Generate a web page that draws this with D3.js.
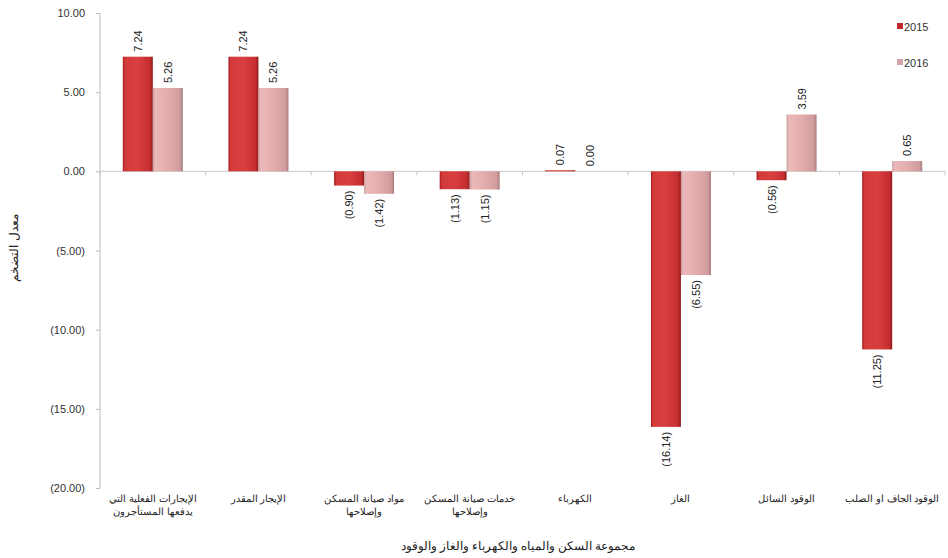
<!DOCTYPE html>
<html><head><meta charset="utf-8">
<script src="https://cdn.jsdelivr.net/npm/d3@7"></script>
<style>body{margin:0;background:#fff}svg{display:block}text{font-family:"Liberation Sans",Arial,sans-serif}</style>
</head><body><svg id="c" width="948" height="558"></svg>
<script>
const categories = ["الإيجارات الفعلية التي|يدفعها المستأجرون","الإيجار المقدر","مواد صيانة المسكن|وإصلاحها","خدمات صيانة المسكن|وإصلاحها","الكهرباء","الغاز","الوقود السائل","الوقود الجاف او الصلب"];
const series = ["2015","2016"];
const v2015 = [7.24,7.24,-0.90,-1.13,0.07,-16.14,-0.56,-11.25];
const v2016 = [5.26,5.26,-1.42,-1.15,0.00,-6.55,3.59,0.65];
const yTicks = [10,5,0,-5,-10,-15,-20];
const yTitle = "معدل التضخم";
const xTitle = "مجموعة السكن والمياه والكهرباء والغاز والوقود";

const svg = d3.select("#c");
const defs = svg.append("defs");
function grad(id, stops){
  const g = defs.append("linearGradient").attr("id",id).attr("x1","0").attr("x2","1").attr("y1","0").attr("y2","0");
  stops.forEach(s=>g.append("stop").attr("offset",s[0]).attr("stop-color",s[1]));
}
grad("g15",[[0,"#a81e22"],[0.08,"#d23a3a"],[0.5,"#d93f40"],[0.9,"#c42e30"],[1,"#8f1a1c"]]);
grad("g16",[[0,"#c99a9a"],[0.08,"#ebb9b9"],[0.5,"#e3acad"],[0.9,"#d09c9d"],[1,"#a87c7c"]]);
const fills = {"2015":"url(#g15)","2016":"url(#g16)"};
const legendCol = {"2015":"#c0282c","2016":"#d7a3a6"};

const y = d3.scaleLinear().domain([-20,10]).range([488,13]);
const x = d3.scaleBand().domain(d3.range(categories.length)).range([100,945]).paddingInner(0).paddingOuter(0);
const xs = d3.scaleBand().domain(series).range([x.bandwidth()/2-30, x.bandwidth()/2+30]);

const fmt = v => v<0 ? "("+d3.format(".2f")(-v)+")" : d3.format(".2f")(v);

// y axis
const yAxis = d3.axisLeft(y).tickValues(yTicks).tickSize(4).tickFormat(fmt);
const ya = svg.append("g").attr("transform","translate(100,0)").call(yAxis);
ya.select(".domain").attr("stroke","#bdbdbd").attr("d","M-4,13.5H0V488.5H-4");
ya.selectAll(".tick line").attr("stroke","#bdbdbd");
ya.selectAll(".tick text").attr("font-size",11).attr("fill","#333").attr("x",-15);

// x axis at zero
const xg = svg.append("g").attr("transform",`translate(0,${y(0)})`);
xg.append("line").attr("x1",100).attr("x2",945).attr("stroke","#c8c8c8");
xg.selectAll("line.t").data(d3.range(categories.length+1)).join("line")
  .attr("x1",i=>i<categories.length?x(i):945).attr("x2",i=>i<categories.length?x(i):945)
  .attr("y1",0).attr("y2",4).attr("stroke","#c8c8c8");

// bars
const data = [];
categories.forEach((c,i)=>{data.push({i,s:"2015",v:v2015[i]});data.push({i,s:"2016",v:v2016[i]});});
const bars = svg.append("g");
bars.selectAll("rect").data(data).join("rect")
  .attr("x",d=>x(d.i)+xs(d.s)).attr("width",xs.bandwidth())
  .attr("y",d=>y(Math.max(0,d.v))).attr("height",d=>Math.abs(y(d.v)-y(0)))
  .attr("fill",d=>fills[d.s]);

// value labels
svg.append("g").selectAll("text").data(data).join("text")
  .attr("transform",d=>{
    const cx = x(d.i)+xs(d.s)+xs.bandwidth()/2+4;
    const yy = d.v<0 ? y(d.v)+5 : y(d.v)-5;
    return `translate(${cx},${yy}) rotate(-90)`;
  })
  .attr("text-anchor",d=>d.v<0?"end":"start")
  .attr("font-size",11).attr("fill","#222")
  .text(d=>fmt(d.v));

// category labels
const cl = svg.append("g");
categories.forEach((c,i)=>{
  const lines = c.split("|");
  const t = cl.append("text").attr("text-anchor","middle").attr("font-size",10).attr("fill","#222")
    .attr("direction","rtl");
  lines.forEach((ln,k)=>{
    t.append("tspan").attr("x",x(i)+x.bandwidth()/2).attr("y",502+k*13).text(ln);
  });
});

// axis titles
svg.append("text").attr("x",518).attr("y",550).attr("text-anchor","middle").attr("font-size",11.5).attr("fill","#222").attr("direction","rtl").text(xTitle);
svg.append("text").attr("transform","translate(18,248) rotate(-90)").attr("text-anchor","middle").attr("font-size",11.5).attr("fill","#222").attr("direction","rtl").text(yTitle);

// legend
const lg = svg.append("g");
series.forEach((s,k)=>{
  const yy = 27+k*36;
  lg.append("rect").attr("x",897).attr("y",yy-4).attr("width",6).attr("height",6).attr("fill",legendCol[s]);
  lg.append("text").attr("x",904).attr("y",yy+3.5).attr("font-size",11).attr("fill","#333").text(s);
});
</script></body></html>
